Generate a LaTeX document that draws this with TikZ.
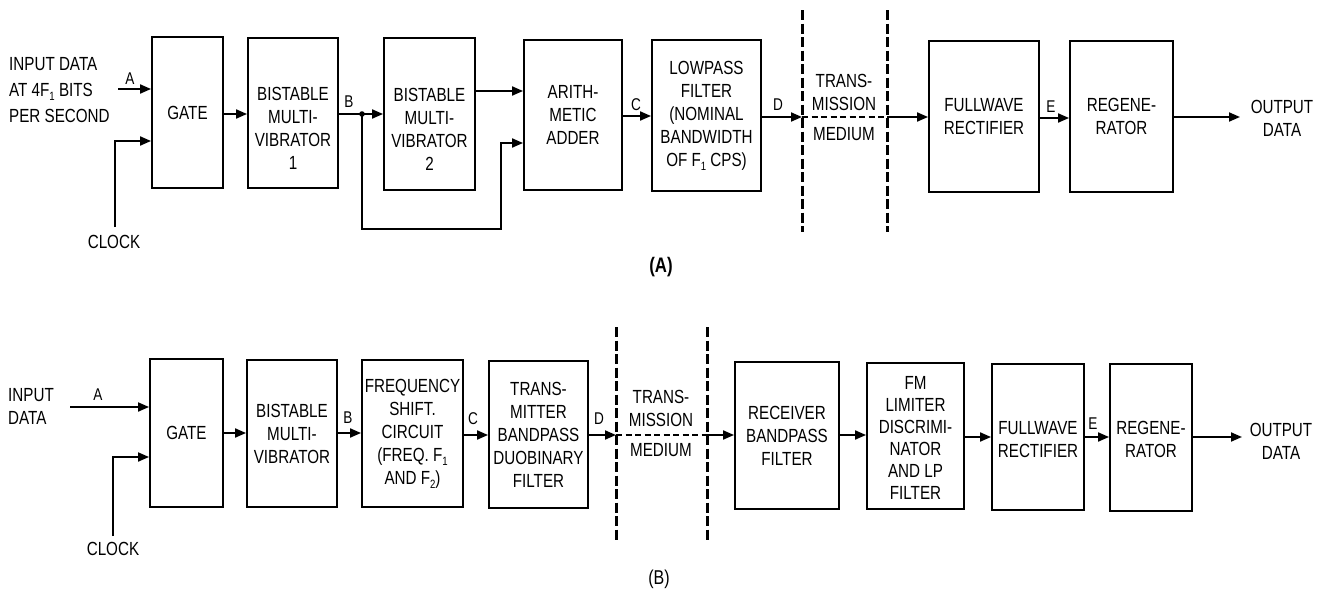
\documentclass[tikz,border=0pt]{standalone}
\usepackage{fontspec}
\newfontfamily\lbl{Liberation Sans}[FakeStretch=0.8]
\usetikzlibrary{arrows.meta}
\newcommand\lsub[1]{\raisebox{-0.4ex}{\fontsize{12}{12}\selectfont #1}}
\begin{document}
\begin{tikzpicture}[x=1pt,y=-1pt,
  blk/.style={draw, line width=1.9pt, inner sep=0pt, align=center,
    font=\lbl\fontsize{19}{23}\selectfont},
  txt/.style={inner sep=0pt, align=center, font=\lbl\fontsize{19}{23}\selectfont},
  ltr/.style={inner sep=0pt, font=\lbl\fontsize{17}{17}\selectfont},
  wire/.style={line width=1.9pt},
  arr/.style={line width=1.9pt, -{Triangle[length=11pt,width=9pt]}},
  medline/.style={line width=3pt, dash pattern=on 10pt off 3.5pt},
  medwire/.style={line width=1.9pt, dash pattern=on 6pt off 3.5pt}]
\useasboundingbox (0,0) rectangle (1318,589);

% ---------------- (A) ----------------
\node[blk, minimum width=71pt, minimum height=151pt] (gateA) at (187.5,112.5) {GATE};
\node[blk, minimum width=90pt, minimum height=150pt] (bm1) at (293,113) {};
\node[txt] (bm1t) at (293,128) {BISTABLE\\MULTI-\\VIBRATOR\\1};
\node[blk, minimum width=91pt, minimum height=152pt] (bm2) at (429.5,114) {};
\node[txt] (bm2t) at (429.5,129) {BISTABLE\\MULTI-\\VIBRATOR\\2};
\node[blk, minimum width=98pt, minimum height=150pt] (add) at (573,115) {ARITH-\\METIC\\ADDER};
\node[blk, minimum width=109pt, minimum height=151pt] (lp) at (706.5,115.5)
  {LOWPASS\\FILTER\\(NOMINAL\\BANDWIDTH\\OF F\lsub{1} CPS)};
\node[blk, minimum width=110pt, minimum height=151pt] (fwA) at (984,116.5) {FULLWAVE\\RECTIFIER};
\node[blk, minimum width=103pt, minimum height=151pt] (rgA) at (1121.5,116.5) {REGENE-\\RATOR};

\node[txt, anchor=west, align=left, font=\lbl\fontsize{19}{26}\selectfont] (inAt) at (9,90) {INPUT DATA\\AT 4F\lsub{1} BITS\\PER SECOND};
\node[txt] (clkAt) at (114,242) {CLOCK};
\node[txt] (outAt) at (1282,118) {OUTPUT\\DATA};
\node[txt] (medAt) at (844,107) {TRANS-\\MISSION\\[7pt]MEDIUM};
\node[txt, font=\lbl\bfseries\fontsize{21}{21}\selectfont] (capA) at (661,267) {(A)};

\node[ltr] (lAa) at (130,79) {A};
\node[ltr] (lAb) at (349,102) {B};
\node[ltr] (lAc) at (636,105) {C};
\node[ltr] (lAd) at (778,105) {D};
\node[ltr] (lAe) at (1051,107) {E};

\coordinate (inA) at (118,89);
\coordinate (clkA) at (115,227);
\coordinate (dotA) at (362,114);
\coordinate (fbA) at (501,229);
\coordinate (mA1) at (802,117);
\coordinate (mA2) at (887,117);
\coordinate (outA) at (1240,117);

\draw[medline] (802,10) -- (802,232);
\draw[medline] (887,10) -- (887,232);

\draw[arr] (inA) -- (inA -| gateA.west);
\draw[arr] (clkA) |- (gateA.west |- 0,141);
\draw[arr] (gateA.east |- 0,114) -- (bm1.west |- 0,114);
\draw[arr] (bm1.east |- dotA) -- (bm2.west |- dotA);
\fill (dotA) circle (2.8pt);
\draw[arr] (bm2.east |- 0,91) -- (add.west |- 0,91);
\draw[arr] (dotA) |- (fbA) |- (add.west |- 0,143);
\draw[arr] (add.east |- 0,116) -- (lp.west |- 0,116);
\draw[arr] (lp.east |- mA1) -- (mA1);
\draw[medwire] (mA1) -- (mA2);
\draw[arr] (mA2) -- (fwA.west |- mA2);
\draw[arr] (fwA.east |- 0,118) -- (rgA.west |- 0,118);
\draw[arr] (rgA.east |- outA) -- (outA);

% ---------------- (B) ----------------
\node[blk, minimum width=73pt, minimum height=148pt] (gateB) at (186.5,433) {GATE};
\node[blk, minimum width=90pt, minimum height=147pt] (bmB) at (292,433.5) {BISTABLE\\MULTI-\\VIBRATOR};
\node[blk, minimum width=101pt, minimum height=147pt] (fs) at (412.5,433.5)
  {FREQUENCY\\SHIFT.\\CIRCUIT\\(FREQ. F\lsub{1}\\AND F\lsub{2})};
\node[blk, minimum width=99pt, minimum height=147pt] (tx) at (538.5,434.5)
  {TRANS-\\MITTER\\BANDPASS\\DUOBINARY\\FILTER};
\node[blk, minimum width=104pt, minimum height=147pt] (rx) at (787,435.5) {RECEIVER\\BANDPASS\\FILTER};
\node[blk, minimum width=97pt, minimum height=146pt] (fm) at (915.5,436) {};
\node[txt, font=\lbl\fontsize{19}{22}\selectfont] (fmt) at (915.5,438)
  {FM\\LIMITER\\DISCRIMI-\\NATOR\\AND LP\\FILTER};
\node[blk, minimum width=92pt, minimum height=146pt] (fwB) at (1038,437) {};
\node[txt] (fwBt) at (1038,439.5) {FULLWAVE\\RECTIFIER};
\node[blk, minimum width=82pt, minimum height=147pt] (rgB) at (1151,437.5) {};
\node[txt] (rgBt) at (1151,439.5) {REGENE-\\RATOR};

\node[txt, anchor=west, align=left] (inBt) at (8,406) {INPUT\\DATA};
\node[txt] (clkBt) at (113,549) {CLOCK};
\node[txt] (outBt) at (1281,441) {OUTPUT\\DATA};
\node[txt] (medBt) at (661,423) {TRANS-\\MISSION\\[7pt]MEDIUM};
\node[txt, font=\lbl\fontsize{20}{20}\selectfont] (capB) at (659,579) {(B)};

\node[ltr] (lBa) at (98,395) {A};
\node[ltr] (lBb) at (348,418) {B};
\node[ltr] (lBc) at (473,419) {C};
\node[ltr] (lBd) at (599,419) {D};
\node[ltr] (lBe) at (1093,424) {E};

\coordinate (inB) at (70,407);
\coordinate (clkB) at (113,536);
\coordinate (mB1) at (616,435);
\coordinate (mB2) at (707,435);
\coordinate (outB) at (1242,437);

\draw[medline] (616,327) -- (616,543);
\draw[medline] (707,327) -- (707,543);

\draw[arr] (inB) -- (inB -| gateB.west);
\draw[arr] (clkB) |- (gateB.west |- 0,457);
\draw[arr] (gateB.east |- 0,433) -- (bmB.west |- 0,433);
\draw[arr] (bmB.east |- 0,433) -- (fs.west |- 0,433);
\draw[arr] (fs.east |- 0,435) -- (tx.west |- 0,435);
\draw[arr] (tx.east |- mB1) -- (mB1);
\draw[medwire] (mB1) -- (mB2);
\draw[arr] (mB2) -- (rx.west |- mB2);
\draw[arr] (rx.east |- 0,435) -- (fm.west |- 0,435);
\draw[arr] (fm.east |- 0,437) -- (fwB.west |- 0,437);
\draw[arr] (fwB.east |- 0,437) -- (rgB.west |- 0,437);
\draw[arr] (rgB.east |- outB) -- (outB);
\end{tikzpicture}
\end{document}
